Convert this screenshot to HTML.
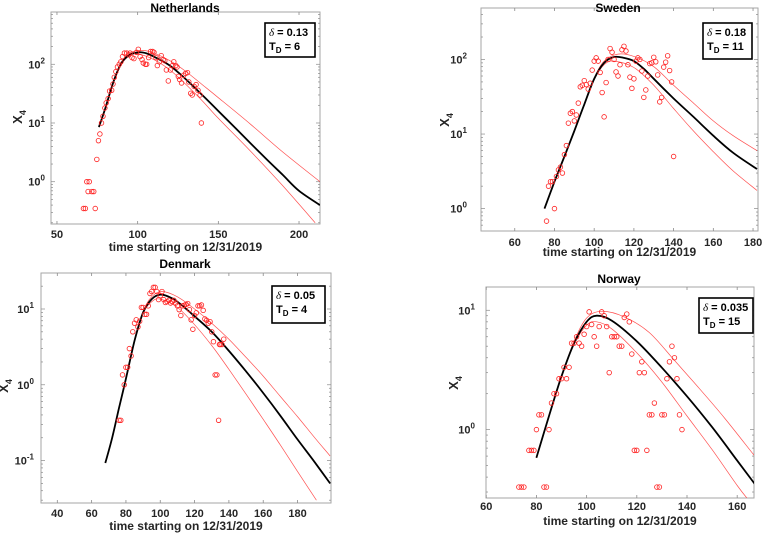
<!DOCTYPE html>
<html><head><meta charset="utf-8">
<style>
html,body{margin:0;padding:0;background:#fff;}
svg{display:block;font-family:"Liberation Sans",sans-serif;}
</style></head>
<body>
<svg id="fig" width="763" height="533" viewBox="0 0 763 533" xmlns="http://www.w3.org/2000/svg"></svg>
<script>
// ---------- Netherlands ----------
const nlPtsX=[66.4,67.6,68.5,70,69.3,71.6,72.8,73.7,74.7,75.7,76.6,77.6,78.5,79.7,80.5,81.7,82.6,83.9,84.7,85.5,86.5,87.5,88.6,89.6,90.6,91.8,93.2,94.5,95.3,96.5,97.7,99.3,100.4,101.5,102.7,103.5,104.8,105.6,106.8,108,109.3,110.1,111.3,112.2,113.4,114.6,115.8,116.8,117.8,119,120.3,121.6,122.4,123.6,124.4,125.2,126,127.2,128.5,129.7,130.9,131.7,132.9,133.8,135,136.2,137.4,138.7,139.5];
const nlPtsY=[0.35,0.35,1.0,1.0,0.68,0.68,0.68,0.35,2.4,5,6.5,10,13,18,22,26,35,36,46,60,75,90,100,110,135,155,155,145,155,130,125,160,180,135,120,105,100,100,130,165,165,160,130,95,110,140,120,115,80,52,80,95,110,95,90,62,55,48,65,70,72,50,32,30,42,45,36,30,10];
const nlFitX=[76,80,85,90,95,101,105,110,120,130,140,150,160,170,180,190,200,213];
const nlFitY=[8.5,18,50,105,145,160,155,135,95,55,30,16,8.5,4.5,2.4,1.3,0.7,0.4];
const nlUpX=[76,80,85,90,95,103,110,120,130,140,150,170,190,213];
const nlUpY=[8.5,18,52,110,155,172,155,115,75,45,27,9.5,3.2,1.0];
const nlLoX=[76,80,85,90,95,100,110,120,130,140,150,170,190,210];
const nlLoY=[8.5,18,48,100,140,150,120,80,45,24,12,3.3,0.85,0.2];
const nlXTicks=[50,100,150,200];
const nlYTicks=[0,1,2];
// ---------- Sweden ----------
const sePtsX=[76,77,78,79,80,81,82,83,84,85,86,87,88,89,90,91,92,93,94,95,96,97,98,99,100,101,102,103,104,105,106,107,108,109,110,111,112,113,114,115,116,117,118,119,120,121,122,123,124,125,126,127,128,129,130,131,132,133,134,135,136,137,138,139,140];
const sePtsY=[0.68,2.0,2.3,2.3,1.0,2.7,3.3,3.6,3.0,5.3,7,14,19,20,15,18,26,43,45,52,46,40,48,72,95,105,95,67,36,17,49,100,140,125,100,68,60,85,135,150,130,85,58,41,55,95,105,100,70,31,39,60,88,90,107,93,62,27,31,79,92,112,71,50,5];
const seFitX=[75,80,85,90,95,100,105,110,115,120,125,130,140,150,160,170,182];
const seFitY=[1,2.3,5,11,25,55,90,108,105,95,75,55,30,17,9.5,5.6,3.4];
const seUpX=[75,80,85,90,95,100,105,112,120,130,140,150,160,170,182];
const seUpY=[1,2.3,5,11,25,56,95,118,110,80,45,26,15,9.5,6];
const seLoX=[75,80,85,90,95,100,105,110,120,130,140,150,160,170,182];
const seLoY=[1,2.3,5,11,25,54,85,95,78,45,22,11,5.8,3.2,1.75];
const seXTicks=[60,80,100,120,140,160,180];
const seYTicks=[0,1,2];
// ---------- Denmark ----------
const dkPtsY=[0.34,0.34,1.35,1.0,1.7,1.7,3.0,2.4,5.0,6.5,7.2,5.8,6.9,10.5,10.5,8.5,8.5,11,16,17,19.3,19.3,17,13.3,15,17,13.3,12.2,12.5,13,12,12.5,13,12,11,9.8,8.2,11,11.2,11.5,11.8,9.8,7.2,5.4,8.2,8.9,11,11,11.3,9.6,7.4,7.1,6.5,6.8,5.0,3.7,1.35,1.35,0.34,3.4,3.4,3.4,4.0];
const dkPtsX=[76,77,78,79,80,81,82,83,84,85,86,87,88,89,90,91,92,93,94,95,96,97,98,99,100,101,102,103,104,105,106,107,108,109,110,111,112,113,114,115,116,117,118,119,120,121,122,123,124,125,126,127,128,129,130,131,132,133,134,134.5,135,136,137,138].slice(0,dkPtsY.length);
const dkFitX=[68,72,76,80,85,90,95,100,105,110,120,130,140,150,160,170,180,190,199];
const dkFitY=[0.093,0.2,0.5,1.2,3.8,9,13.5,15.5,14.5,12.5,8,5,2.8,1.5,0.78,0.39,0.19,0.095,0.05];
const dkUpX=[68,72,76,80,85,90,95,101,110,120,130,140,150,160,170,180,190,199];
const dkUpY=[0.093,0.2,0.5,1.2,3.8,9.3,14.5,17,14.5,10,6.5,4,2.3,1.3,0.7,0.38,0.2,0.115];
const dkLoX=[68,72,76,80,85,90,95,100,110,120,130,140,150,160,170,180,191];
const dkLoY=[0.093,0.2,0.5,1.2,3.8,8.8,12.5,13.5,10.5,6.2,3.3,1.6,0.75,0.35,0.16,0.072,0.03];
const dkXTicks=[40,60,80,100,120,140,160,180];
const dkYTicks=[-1,0,1];
// ---------- Norway ----------
const noPtsX=[73,74,75,77,78,79,80,81,82,83,84,85,86,87,88,89,90,91,92,93,94,95,96,97,98,99,100,101,102,103,104,105,106,107,108,109,110,111,112,113,114,115,116,117,118,119,120,121,122,123,124,125,126,127,128,129,130,131,132,133,134,135,136,137,138];
const noPtsY=[0.33,0.33,0.33,0.67,0.67,0.67,1.0,1.33,1.33,0.33,0.33,1.0,1.67,2,2,2.67,2.67,3.33,2.67,3.33,5.3,5.3,6,5.3,5,6.3,7.3,9.7,7.6,6,5,7.3,9.7,9,7.3,3,6,6,6,5,5,8.7,9.3,8,4.3,0.67,0.67,3,3.7,3,0.67,1.33,1.33,1.67,0.33,0.33,1.33,1.33,2.67,3.7,5,4,2.67,1.33,1.0];
const noFitX=[80,85,90,95,100,104,110,120,130,140,150,160,167];
const noFitY=[0.58,1.3,2.8,5.3,8,9,8.2,5.5,3.3,1.9,1.05,0.55,0.35];
const noUpX=[80,85,90,95,100,106,115,125,135,145,155,167];
const noUpY=[0.58,1.3,2.8,5.5,8.6,9.8,8.8,6.5,3.8,2.2,1.25,0.6];
const noLoX=[80,85,90,95,100,104,110,120,130,140,150,160,165];
const noLoY=[0.58,1.3,2.8,5.2,7.5,8,7,4.4,2.5,1.3,0.68,0.34,0.25];
const noXTicks=[60,80,100,120,140,160];
const noYTicks=[0,1];

const NS='http://www.w3.org/2000/svg';
const svg=document.getElementById('fig');
function mk(tag,attrs,parent){const e=document.createElementNS(NS,tag);for(const k in attrs)e.setAttribute(k,attrs[k]);(parent||svg).appendChild(e);return e;}
function smoothPath(P){
  let d='M'+P[0][0].toFixed(1)+','+P[0][1].toFixed(1);
  for(let i=0;i<P.length-1;i++){
    const p0=P[i-1]||P[i],p1=P[i],p2=P[i+1],p3=P[i+2]||P[i+1];
    const c1=[p1[0]+(p2[0]-p0[0])/6,p1[1]+(p2[1]-p0[1])/6];
    const c2=[p2[0]-(p3[0]-p1[0])/6,p2[1]-(p3[1]-p1[1])/6];
    d+=' C'+c1[0].toFixed(1)+','+c1[1].toFixed(1)+' '+c2[0].toFixed(1)+','+c2[1].toFixed(1)+' '+p2[0].toFixed(1)+','+p2[1].toFixed(1);
  }
  return d;
}

const panels=[
 {key:'netherlands',title:'Netherlands',tx:185,ty:12,l:51,t:12,r:320,b:224,x0:46.3,x1:213,y0:-0.72,y1:2.89,
  xt:nlXTicks,yt:nlYTicks,px:nlPtsX,py:nlPtsY,fx:nlFitX,fy:nlFitY,ux:nlUpX,uy:nlUpY,lx:nlLoX,ly:nlLoY,
  leg:[265,23,315,57],d:'0.13',td:'6',xlY:251,tlY:238,ylX:22,ylY:117,yto:6},
 {key:'sweden',title:'Sweden',tx:618,ty:12,l:481,t:8,r:758,b:231,x0:43,x1:182.5,y0:-0.30,y1:2.69,
  xt:seXTicks,yt:seYTicks,px:sePtsX,py:sePtsY,fx:seFitX,fy:seFitY,ux:seUpX,uy:seUpY,lx:seLoX,ly:seLoY,
  leg:[703,23,752,59],d:'0.18',td:'11',xlY:256,tlY:246,ylX:449,ylY:120,yto:14},
 {key:'denmark',title:'Denmark',tx:185,ty:268,l:41,t:273,r:331,b:503,x0:30.5,x1:199.5,y0:-1.56,y1:1.475,
  xt:dkXTicks,yt:dkYTicks,px:dkPtsX,py:dkPtsY,fx:dkFitX,fy:dkFitY,ux:dkUpX,uy:dkUpY,lx:dkLoX,ly:dkLoY,
  leg:[272,286,325,323],d:'0.05',td:'4',xlY:530,tlY:517,ylX:8,ylY:386,yto:7},
 {key:'norway',title:'Norway',tx:619,ty:283,l:486,t:287,r:754,b:498,x0:59.9,x1:166.7,y0:-0.573,y1:1.195,
  xt:noXTicks,yt:noYTicks,px:noPtsX,py:noPtsY,fx:noFitX,fy:noFitY,ux:noUpX,uy:noUpY,lx:noLoX,ly:noLoY,
  leg:[699,298,753,333],d:'0.035',td:'15',xlY:525,tlY:510,ylX:458,ylY:383,yto:11}
];

panels.forEach(p=>{
  const g=mk('g',{});
  
  
  const X=v=>p.l+(v-p.x0)/(p.x1-p.x0)*(p.r-p.l);
  const Y=v=>p.b-(Math.log10(v)-p.y0)/(p.y1-p.y0)*(p.b-p.t);
  const YL=e=>p.b-(e-p.y0)/(p.y1-p.y0)*(p.b-p.t);
  const clipId='clip-'+p.key;
  const cp=mk('clipPath',{id:clipId},g);
  mk('rect',{x:p.l,y:p.t,width:p.r-p.l,height:p.b-p.t},cp);
  const fr=mk('rect',{x:p.l,y:p.t,width:p.r-p.l,height:p.b-p.t,fill:'none',stroke:'#a6a6a6','stroke-width':1},g);
  
  
  p.xt.forEach(v=>{
    const x=X(v);
    mk('line',{x1:x,y1:p.b,x2:x,y2:p.b-3,stroke:'#8a8a8a','stroke-width':0.8},g);
    mk('line',{x1:x,y1:p.t,x2:x,y2:p.t+3,stroke:'#8a8a8a','stroke-width':0.8},g);
    const t=mk('text',{x:x,y:p.tlY,'text-anchor':'middle','font-size':11,'font-weight':'bold',fill:'#262626'},g);
    t.textContent=v;
    
    
  });
  for(let e=Math.floor(p.y0);e<=Math.ceil(p.y1);e++){
    for(let m=1;m<10;m++){
      const lv=e+Math.log10(m);
      if(lv<p.y0||lv>p.y1)continue;
      const y=YL(lv), len=m===1?4:2;
      mk('line',{x1:p.l,y1:y,x2:p.l+len,y2:y,stroke:'#8a8a8a','stroke-width':0.7},g);
      mk('line',{x1:p.r,y1:y,x2:p.r-len,y2:y,stroke:'#8a8a8a','stroke-width':0.7},g);
    }
  }
  p.yt.forEach(e=>{
    const y=YL(e);
    const t=mk('text',{x:p.l-p.yto,y:y+4,'text-anchor':'end','font-size':11,'font-weight':'bold',fill:'#262626'},g);
    
    
    const a=mk('tspan',{},t);a.textContent='10';
    const s=mk('tspan',{dy:-5,'font-size':8},t);s.textContent=String(e);
  });
  const pl=(xs,ys,col,w,name)=>{
    const P=xs.map((v,i)=>[X(v),Y(ys[i])]);
    const e=mk('path',{d:smoothPath(P),fill:'none',stroke:col,'stroke-width':w,'stroke-linejoin':'round','clip-path':'url(#'+clipId+')'},g);
    
    
  };
  pl(p.ux,p.uy,'#ff5050',0.7,p.key+'-upper-bound-line');
  pl(p.lx,p.ly,'#ff5050',0.7,p.key+'-lower-bound-line');
  pl(p.fx,p.fy,'#000',1.8,p.key+'-fit-line');
  p.px.forEach((v,i)=>{
    const c=mk('circle',{cx:X(v),cy:Y(p.py[i]),r:2.3,fill:'none',stroke:'#ff2020','stroke-width':0.8,'clip-path':'url(#'+clipId+')'},g);
    
    
  });
  const tt=mk('text',{x:p.tx,y:p.ty,'text-anchor':'middle','font-size':12,'font-weight':'bold',fill:'#000'},g);
  tt.textContent=p.title;
  
  
  const xl=mk('text',{x:(p.l+p.r)/2,y:p.xlY,'text-anchor':'middle','font-size':12,'font-weight':'bold',fill:'#262626'},g);
  xl.textContent='time starting on 12/31/2019';
  
  
  const yl=mk('text',{x:p.ylX,y:p.ylY,'text-anchor':'middle','font-size':13,'font-weight':'bold',fill:'#262626',transform:'rotate(-90 '+p.ylX+' '+p.ylY+')'},g);
  
  
  const y1=mk('tspan',{},yl);y1.textContent='X';
  const y2=mk('tspan',{dy:4,'font-size':9},yl);y2.textContent='4';
  const [a,b,c,d]=p.leg;
  const lg=mk('g',{},g);
  
  
  mk('rect',{x:a,y:b,width:c-a,height:d-b,fill:'#fff',stroke:'#000','stroke-width':1.6},lg);
  const l1=mk('text',{x:a+4,y:b+13,'font-size':11,'font-weight':'bold',fill:'#000'},lg);
  const d1=mk('tspan',{'font-family':'Liberation Serif,serif','font-style':'italic','font-weight':'normal'},l1);d1.textContent='δ';
  const d2=mk('tspan',{},l1);d2.textContent=' = '+p.d;
  const l2=mk('text',{x:a+4,y:b+27,'font-size':11,'font-weight':'bold',fill:'#000'},lg);
  const t1=mk('tspan',{},l2);t1.textContent='T';
  const t2=mk('tspan',{dy:3,'font-size':8},l2);t2.textContent='D';
  const t3=mk('tspan',{dy:-3},l2);t3.textContent=' = '+p.td;
});
</script>
</body></html>
